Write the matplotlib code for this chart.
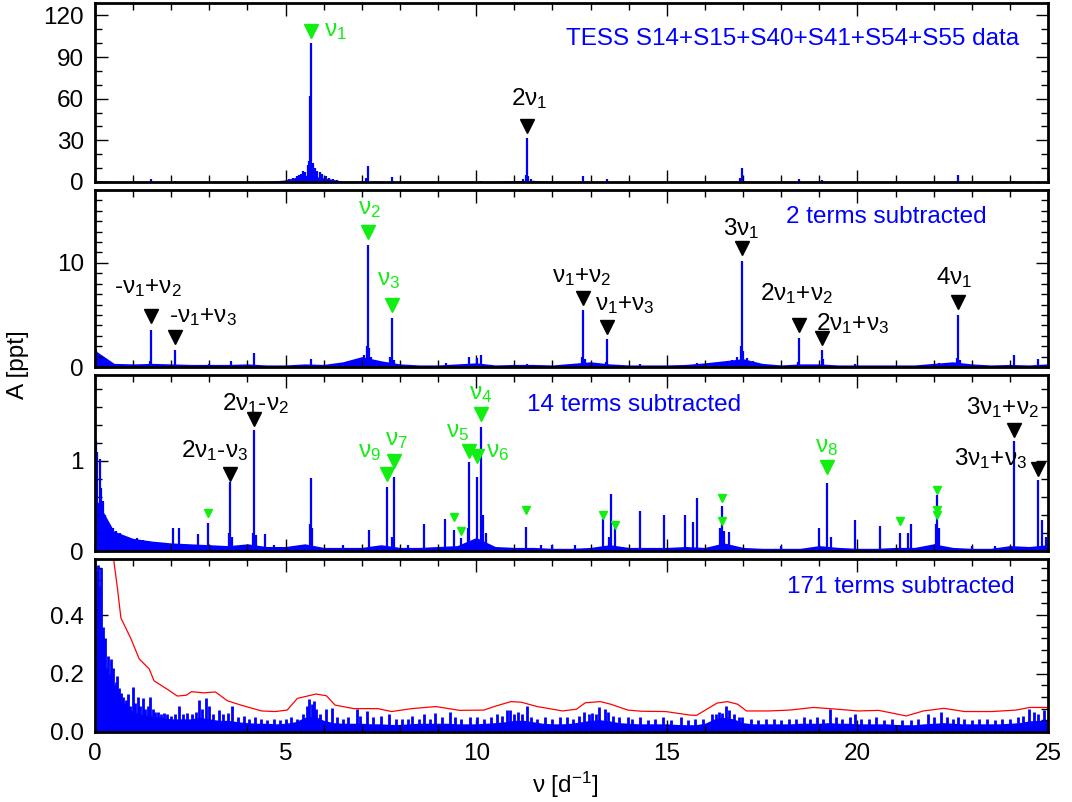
import numpy as np
import matplotlib
matplotlib.use("Agg")
import matplotlib.pyplot as plt
from matplotlib.ticker import MultipleLocator

plt.rcParams['font.family'] = ['Liberation Sans', 'DejaVu Sans']
plt.rcParams['mathtext.fontset'] = 'custom'
plt.rcParams['mathtext.rm'] = 'Liberation Sans'
plt.rcParams['mathtext.it'] = 'Liberation Sans'
plt.rcParams['mathtext.default'] = 'regular'

BLUE = '#0000ff'
GREEN = '#11ee11'
FS = 17.5

# -------------------------------------------------------------
# Data (frequency in d^-1, amplitude in ppt)
# -------------------------------------------------------------

# coarse noise floor grids
grid_half = np.linspace(0, 25, 51)      # 0.5 d^-1 steps
grid_quarter = np.linspace(0, 25, 101)  # 0.25 d^-1 steps

# panel 1: original data
p1_floor = [1.2, 0.4, 0.4, 0.4, 0.3, 0.3, 0.3, 0.3, 0.3, 0.4,
            1.5, 5.0, 3.0, 0.6, 0.5, 0.4, 0.3, 0.3, 0.3, 0.3,
            0.3, 0.3, 1.0, 1.2, 0.3, 0.3, 0.4, 0.3, 0.3, 0.3,
            0.3, 0.3, 0.3, 0.3, 0.6, 0.3, 0.3, 0.3, 0.3, 0.3,
            0.3, 0.3, 0.3, 0.3, 0.3, 0.3, 0.3, 0.3, 0.3, 0.3, 0.3]
p1_freq = [5.67, 5.64, 5.61, 5.72, 5.58, 5.76, 5.50, 5.45, 5.40, 5.35,
           5.30, 5.20, 5.10, 5.82, 5.90, 5.95, 6.05, 6.15, 6.25, 6.35,
           11.33, 11.30, 11.37, 11.22, 11.45, 7.15, 7.12, 7.78, 1.48, 2.11,
           10.13, 12.81, 13.44, 16.97, 16.93, 18.47, 19.07, 22.63, 24.12]
p1_amp = [100, 62, 15, 14, 12, 10, 7, 8, 6, 5,
          4, 3, 2, 8, 7, 6, 4, 3, 2, 1.5,
          32, 5, 4, 2, 2, 11.5, 3, 3.5, 2.4, 1.0,
          0.8, 4, 2, 10, 3, 2.5, 1.2, 5, 0.8]

# panel 2: 2 terms subtracted
p2_floor = [1.6, 0.35, 0.3, 0.35, 0.3, 0.25, 0.25, 0.25, 0.3, 0.2,
            0.2, 0.3, 0.25, 0.5, 1.0, 0.6, 0.3, 0.2, 0.2, 0.3,
            0.4, 0.2, 0.25, 0.25, 0.2, 0.35, 0.5, 0.3, 0.2, 0.2,
            0.2, 0.25, 0.4, 0.6, 0.8, 0.35, 0.2, 0.3, 0.3, 0.2,
            0.2, 0.2, 0.2, 0.2, 0.35, 0.5, 0.3, 0.2, 0.25, 0.2, 0.3]
p2_freq = [7.15, 7.13, 7.18, 7.05, 7.25, 6.95, 6.85, 7.78, 7.75, 7.85,
           1.48, 1.45, 2.11, 0.03, 0.08, 4.17, 3.56, 2.98, 5.67, 9.82,
           10.02, 10.13, 11.32, 12.81, 12.78, 12.86, 13.44, 13.41, 14.30, 15.78,
           16.97, 16.94, 17.00, 16.85, 17.10, 16.70, 17.25, 18.47, 18.44, 19.07,
           19.10, 22.13, 22.63, 22.60, 22.68, 24.12, 24.75, 19.95, 9.20]
p2_amp = [11.7, 2.0, 1.8, 1.2, 1.0, 0.9, 0.7, 4.7, 1.0, 0.7,
          3.6, 0.6, 1.6, 1.6, 1.2, 1.3, 0.6, 0.3, 0.8, 1.0,
          0.9, 1.2, 0.3, 5.45, 1.0, 0.8, 2.66, 0.5, 0.3, 0.4,
          10.16, 2.0, 1.5, 1.0, 0.9, 0.7, 0.6, 2.8, 0.5, 1.6,
          0.8, 0.4, 4.97, 0.9, 0.7, 1.2, 0.8, 0.3, 0.35]

# panel 3: 14 terms subtracted
p3_floor = [0.6, 0.22, 0.14, 0.11, 0.09, 0.08, 0.07, 0.06, 0.08, 0.05,
            0.05, 0.08, 0.04, 0.04, 0.04, 0.07, 0.04, 0.04, 0.05, 0.06,
            0.15, 0.05, 0.04, 0.04, 0.03, 0.03, 0.04, 0.07, 0.04, 0.04,
            0.04, 0.05, 0.04, 0.09, 0.04, 0.03, 0.03, 0.03, 0.06, 0.04,
            0.03, 0.03, 0.04, 0.04, 0.08, 0.04, 0.03, 0.03, 0.06, 0.05, 0.07]
p3_freq = [0.02, 0.05, 0.13, 0.16, 0.22, 0.26, 0.32, 0.40, 0.48, 0.55,
           0.65, 0.75, 0.85, 1.00, 1.10, 1.25, 1.40, 1.60, 1.80, 2.04,
           2.20, 2.71, 2.96, 3.55, 3.52, 3.60, 4.18, 4.15, 4.22, 4.46,
           5.67, 5.63, 5.70, 7.19, 7.67, 7.85, 7.80, 8.63, 9.18, 9.41,
           9.60, 9.81, 9.78, 10.02, 10.13, 10.17, 10.25, 11.30, 13.33, 13.53,
           13.64, 13.48, 14.30, 14.93, 15.49, 15.69, 15.78, 16.44, 16.40, 16.50,
           16.62, 19.00, 19.19, 19.30, 19.95, 20.58, 21.13, 21.32, 21.41, 22.09,
           22.05, 22.15, 24.12, 24.75, 24.84, 24.95, 12.00, 12.60, 18.00, 23.00,
           23.60, 11.70, 6.50, 8.20, 5.20, 4.70]
p3_amp = [1.22, 1.10, 1.02, 0.70, 0.56, 0.40, 0.30, 0.28, 0.25, 0.22,
          0.20, 0.17, 0.15, 0.13, 0.14, 0.12, 0.11, 0.10, 0.09, 0.26,
          0.26, 0.19, 0.31, 0.77, 0.20, 0.15, 1.34, 0.20, 0.18, 0.19,
          0.81, 0.30, 0.25, 0.23, 0.71, 0.82, 0.15, 0.30, 0.35, 0.23,
          0.14, 0.99, 0.25, 0.82, 1.38, 0.40, 0.20, 0.27, 0.36, 0.63,
          0.25, 0.15, 0.44, 0.40, 0.40, 0.32, 0.59, 0.50, 0.25, 0.22,
          0.21, 0.25, 0.75, 0.15, 0.34, 0.28, 0.20, 0.20, 0.30, 0.62,
          0.30, 0.25, 1.22, 0.79, 0.34, 0.15, 0.07, 0.07, 0.06, 0.06,
          0.06, 0.07, 0.07, 0.07, 0.06, 0.07]

# panel 4: 171 terms subtracted
p4_floor = [0.45, 0.20, 0.13, 0.09, 0.07, 0.06, 0.055, 0.05, 0.045, 0.045,
            0.045, 0.05, 0.045, 0.04, 0.04, 0.035, 0.032, 0.03, 0.03, 0.028,
            0.03, 0.035, 0.05, 0.055, 0.04, 0.032, 0.03, 0.03, 0.03, 0.028,
            0.028, 0.026, 0.026, 0.028, 0.03, 0.03, 0.03, 0.03, 0.028, 0.028,
            0.028, 0.03, 0.032, 0.035, 0.04, 0.04, 0.035, 0.03, 0.028, 0.028,
            0.03, 0.035, 0.04, 0.042, 0.038, 0.032, 0.03, 0.028, 0.028, 0.028,
            0.028, 0.026, 0.025, 0.025, 0.03, 0.045, 0.05, 0.045, 0.032, 0.028,
            0.028, 0.028, 0.028, 0.028, 0.03, 0.03, 0.03, 0.032, 0.03, 0.03,
            0.028, 0.028, 0.028, 0.028, 0.026, 0.025, 0.025, 0.028, 0.03, 0.032,
            0.03, 0.028, 0.028, 0.028, 0.028, 0.028, 0.03, 0.032, 0.038, 0.04, 0.04]
p4_freq = [0.03, 0.07, 0.11, 0.16, 0.20, 0.24, 0.26, 0.30, 0.35, 0.39,
           0.42, 0.46, 0.50, 0.55, 0.59, 0.63, 0.68, 0.73, 0.78, 0.82,
           0.86, 0.92, 0.99, 1.05, 1.12, 1.18, 1.25, 1.32, 1.38, 1.45,
           1.52, 1.58, 1.64, 1.72, 1.80, 1.90, 2.00, 2.10, 2.21, 2.30,
           2.42, 2.55, 2.65, 2.73, 2.80, 2.91, 2.98, 3.10, 3.25, 3.35,
           3.50, 3.60, 3.75, 3.90, 4.05, 4.20, 4.35, 4.50, 4.70, 4.85,
           5.00, 5.15, 5.30, 5.45, 5.55, 5.61, 5.68, 5.74, 5.80, 5.90,
           6.07, 6.22, 6.35, 6.50, 6.65, 6.86, 6.95, 7.14, 7.30, 7.50,
           7.71, 7.90, 8.05, 8.20, 8.32, 8.50, 8.63, 8.80, 8.93, 9.10,
           9.30, 9.45, 9.60, 9.84, 10.03, 10.20, 10.40, 10.55, 10.67, 10.80,
           10.89, 11.00, 11.10, 11.20, 11.32, 11.45, 11.60, 11.80, 12.00, 12.20,
           12.37, 12.55, 12.70, 12.84, 12.95, 13.05, 13.15, 13.23, 13.37, 13.47,
           13.60, 13.75, 13.97, 14.10, 14.30, 14.50, 14.70, 14.90, 15.10, 15.37,
           15.55, 15.75, 15.95, 16.19, 16.30, 16.37, 16.45, 16.55, 16.62, 16.77,
           16.90, 16.98, 17.20, 17.40, 17.60, 17.80, 18.00, 18.20, 18.40, 18.60,
           18.75, 18.94, 19.10, 19.29, 19.45, 19.60, 19.80, 19.94, 20.10, 20.30,
           20.50, 20.70, 20.90, 21.16, 21.40, 21.60, 21.85, 22.00, 22.20, 22.35,
           22.50, 22.63, 22.80, 23.00, 23.20, 23.40, 23.60, 23.80, 24.00, 24.20,
           24.35, 24.50, 24.63, 24.75, 24.90]
p4_amp = [0.55, 0.57, 0.50, 0.56, 0.36, 0.30, 0.32, 0.22, 0.26, 0.20,
          0.25, 0.22, 0.16, 0.17, 0.19, 0.15, 0.135, 0.12, 0.10, 0.11,
          0.13, 0.09, 0.155, 0.10, 0.12, 0.09, 0.118, 0.08, 0.09, 0.12,
          0.08, 0.07, 0.07, 0.06, 0.065, 0.06, 0.055, 0.06, 0.09, 0.06,
          0.065, 0.06, 0.07, 0.11, 0.08, 0.118, 0.09, 0.06, 0.075, 0.06,
          0.065, 0.09, 0.05, 0.055, 0.045, 0.05, 0.045, 0.04, 0.045, 0.04,
          0.045, 0.05, 0.045, 0.06, 0.09, 0.112, 0.095, 0.106, 0.08, 0.06,
          0.077, 0.083, 0.05, 0.045, 0.05, 0.08, 0.055, 0.072, 0.05, 0.055,
          0.063, 0.045, 0.043, 0.045, 0.055, 0.045, 0.06, 0.045, 0.065, 0.05,
          0.07, 0.05, 0.045, 0.05, 0.05, 0.045, 0.05, 0.06, 0.055, 0.075,
          0.075, 0.06, 0.07, 0.06, 0.09, 0.05, 0.045, 0.05, 0.045, 0.05,
          0.05, 0.045, 0.055, 0.07, 0.06, 0.065, 0.06, 0.085, 0.08, 0.07,
          0.055, 0.05, 0.05, 0.045, 0.05, 0.04, 0.045, 0.05, 0.04, 0.05,
          0.04, 0.045, 0.045, 0.06, 0.06, 0.07, 0.065, 0.09, 0.075, 0.06,
          0.05, 0.05, 0.045, 0.04, 0.045, 0.045, 0.04, 0.045, 0.045, 0.05,
          0.045, 0.05, 0.045, 0.08, 0.05, 0.045, 0.05, 0.06, 0.045, 0.045,
          0.05, 0.04, 0.045, 0.04, 0.04, 0.045, 0.06, 0.05, 0.07, 0.05,
          0.045, 0.05, 0.045, 0.04, 0.045, 0.045, 0.04, 0.045, 0.045, 0.05,
          0.055, 0.08, 0.07, 0.06, 0.075]

# red noise-level curve in the bottom panel
red_freq = [0.45, 0.49, 0.59, 0.68, 0.94, 1.16, 1.42, 1.55, 1.90, 2.16,
            2.40, 2.53, 2.84, 3.16, 3.47, 3.83, 4.37, 4.73, 5.04, 5.31,
            5.80, 6.07, 6.30, 6.79, 7.42, 7.78, 8.31, 8.94, 9.57, 10.20,
            10.47, 10.91, 11.18, 11.60, 12.27, 12.63, 12.86, 13.26, 13.53, 13.98,
            14.34, 14.97, 15.60, 15.78, 16.05, 16.32, 16.59, 16.86, 17.09, 17.68,
            18.22, 18.85, 19.48, 20.02, 20.56, 21.28, 21.73, 22.27, 22.81, 23.53,
            24.16, 24.52, 25.00]
red_amp = [0.70, 0.59, 0.49, 0.39, 0.32, 0.25, 0.216, 0.175, 0.146, 0.123,
           0.126, 0.138, 0.134, 0.137, 0.107, 0.092, 0.072, 0.070, 0.075, 0.115,
           0.130, 0.124, 0.092, 0.080, 0.080, 0.070, 0.080, 0.087, 0.074, 0.075,
           0.087, 0.104, 0.102, 0.087, 0.072, 0.078, 0.100, 0.104, 0.095, 0.075,
           0.071, 0.070, 0.058, 0.057, 0.078, 0.099, 0.104, 0.095, 0.072, 0.072,
           0.075, 0.084, 0.078, 0.072, 0.074, 0.055, 0.072, 0.081, 0.070, 0.070,
           0.075, 0.084, 0.084]

# identified frequencies: (frequency, marker height, label, colour)
p1_marks = [(5.67, 109, r'ν$_1$', GREEN), (11.33, 40.5, r'2ν$_1$', 'black')]
p2_marks = [(7.15, 13.0, r'ν$_2$', GREEN), (7.78, 6.0, r'ν$_3$', GREEN),
            (1.48, 4.9, r'-ν$_1$+ν$_2$', 'black'), (2.11, 2.9, r'-ν$_1$+ν$_3$', 'black'),
            (12.81, 6.6, r'ν$_1$+ν$_2$', 'black'), (13.44, 3.85, r'ν$_1$+ν$_3$', 'black'),
            (16.97, 11.4, r'3ν$_1$', 'black'), (18.47, 4.0, r'2ν$_1$+ν$_2$', 'black'),
            (19.07, 2.8, r'2ν$_1$+ν$_3$', 'black'), (22.63, 6.25, r'4ν$_1$', 'black')]
p3_marks = [(3.55, 0.86, r'2ν$_1$-ν$_3$', 'black'), (4.18, 1.47, r'2ν$_1$-ν$_2$', 'black'),
            (7.67, 0.85, r'ν$_9$', GREEN), (7.85, 1.00, r'ν$_7$', GREEN),
            (9.81, 1.11, r'ν$_5$', GREEN), (10.02, 1.06, r'ν$_6$', GREEN),
            (10.13, 1.52, r'ν$_4$', GREEN), (19.19, 0.93, r'ν$_8$', GREEN),
            (24.12, 1.34, r'3ν$_1$+ν$_2$', 'black'), (24.75, 0.91, r'3ν$_1$+ν$_3$', 'black')]
# unlabelled small green markers in panel 3
p3_small_freq = [2.96, 9.41, 9.60, 11.30, 13.33, 13.64, 16.44, 16.44, 21.13, 22.09, 22.09, 22.09]
p3_small_y = [0.42, 0.38, 0.22, 0.45, 0.40, 0.29, 0.59, 0.33, 0.33, 0.68, 0.45, 0.40]

# label placement (x, baseline y), same order as the marks above
p1_label_pos = [(6.0, 105, 'left'), (11.4, 55.5, 'center')]
p2_label_pos = [(7.21, 14.7), (7.70, 7.85), (1.38, 7.05), (2.84, 4.33), (12.77, 8.17),
                (13.91, 5.45), (16.95, 12.66), (18.40, 6.41), (19.88, 3.53), (22.54, 8.0)]
p3_label_pos = [(3.13, 1.04), (4.21, 1.56), (7.21, 1.04), (7.90, 1.18), (9.52, 1.27),
                (10.57, 1.04), (10.11, 1.69), (19.20, 1.10), (23.80, 1.52), (23.50, 0.95)]


def draw_spectrum(ax, floor_grid, floor, freq, amp, lw=1.6):
    ax.fill_between(floor_grid, 0, floor, color=BLUE, lw=0)
    ax.vlines(freq, 0, amp, color=BLUE, lw=lw)


def style_axis(ax, ymax, major, minor):
    ax.set_xlim(0, 25)
    ax.set_ylim(0, ymax)
    ax.xaxis.set_major_locator(MultipleLocator(5))
    ax.xaxis.set_minor_locator(MultipleLocator(1))
    ax.yaxis.set_major_locator(MultipleLocator(major))
    ax.yaxis.set_minor_locator(MultipleLocator(minor))
    ax.tick_params(which='both', direction='in', top=True, right=True,
                   labelsize=FS, width=1, pad=8)
    ax.tick_params(which='major', length=9)
    ax.tick_params(which='minor', length=5)
    for sp in ax.spines.values():
        sp.set_linewidth(2)


fig = plt.figure(figsize=(10.72, 8.02), dpi=100)
left = 95 / 1072
width = (1048 - 95) / 1072
panel_px = [(3, 182), (190, 367), (375, 551), (559, 732)]
axes = []
for top, bottom in panel_px:
    axes.append(fig.add_axes([left, 1 - bottom / 802, width, (bottom - top) / 802]))
ax1, ax2, ax3, ax4 = axes

# ---------------- panel 1 ----------------
draw_spectrum(ax1, grid_half, p1_floor, p1_freq, p1_amp)
style_axis(ax1, 129, 30, 10)
for (f, y, lab, col), (lx, ly, ha) in zip(p1_marks, p1_label_pos):
    ax1.plot(f, y, marker='v', ms=10, color=col, ls='none')
    ax1.text(lx, ly, lab, color=col, fontsize=FS, ha=ha, va='baseline')
ax1.text(24.25, 99, 'TESS S14+S15+S40+S41+S54+S55 data', color=BLUE,
         fontsize=FS, ha='right', va='baseline')

# ---------------- panel 2 ----------------
draw_spectrum(ax2, grid_half, p2_floor, p2_freq, p2_amp)
style_axis(ax2, 17, 10, 1)
for (f, y, lab, col), (lx, ly) in zip(p2_marks, p2_label_pos):
    ax2.plot(f, y, marker='v', ms=10, color=col, ls='none')
    ax2.text(lx, ly, lab, color=col, fontsize=FS, ha='center', va='baseline')
ax2.text(23.4, 13.8, '2 terms subtracted', color=BLUE, fontsize=FS,
         ha='right', va='baseline')

# ---------------- panel 3 ----------------
draw_spectrum(ax3, grid_half, p3_floor, p3_freq, p3_amp)
style_axis(ax3, 1.955, 1, 0.2)
for (f, y, lab, col), (lx, ly) in zip(p3_marks, p3_label_pos):
    ax3.plot(f, y, marker='v', ms=10, color=col, ls='none')
    ax3.text(lx, ly, lab, color=col, fontsize=FS, ha='center', va='baseline')
ax3.plot(p3_small_freq, p3_small_y, marker='v', ms=6, color=GREEN, ls='none')
ax3.text(16.95, 1.56, '14 terms subtracted', color=BLUE, fontsize=FS,
         ha='right', va='baseline')

# ---------------- panel 4 ----------------
draw_spectrum(ax4, grid_quarter, p4_floor, p4_freq, p4_amp, lw=2.0)
ax4.plot(red_freq, red_amp, color='red', lw=0.9)
style_axis(ax4, 0.592, 0.2, 0.04)
ax4.text(24.12, 0.475, '171 terms subtracted', color=BLUE, fontsize=FS,
         ha='right', va='baseline')

for ax in (ax1, ax2, ax3):
    ax.tick_params(labelbottom=False)

fig.text(18 / 1072, 1 - 365 / 802, 'A [ppt]', rotation=90, fontsize=FS,
         ha='center', va='center')
fig.text(565 / 1072, 1 - 785 / 802, r'ν [d$^{-1}$]', fontsize=FS,
         ha='center', va='center')

fig.savefig('out.png', dpi=100)
